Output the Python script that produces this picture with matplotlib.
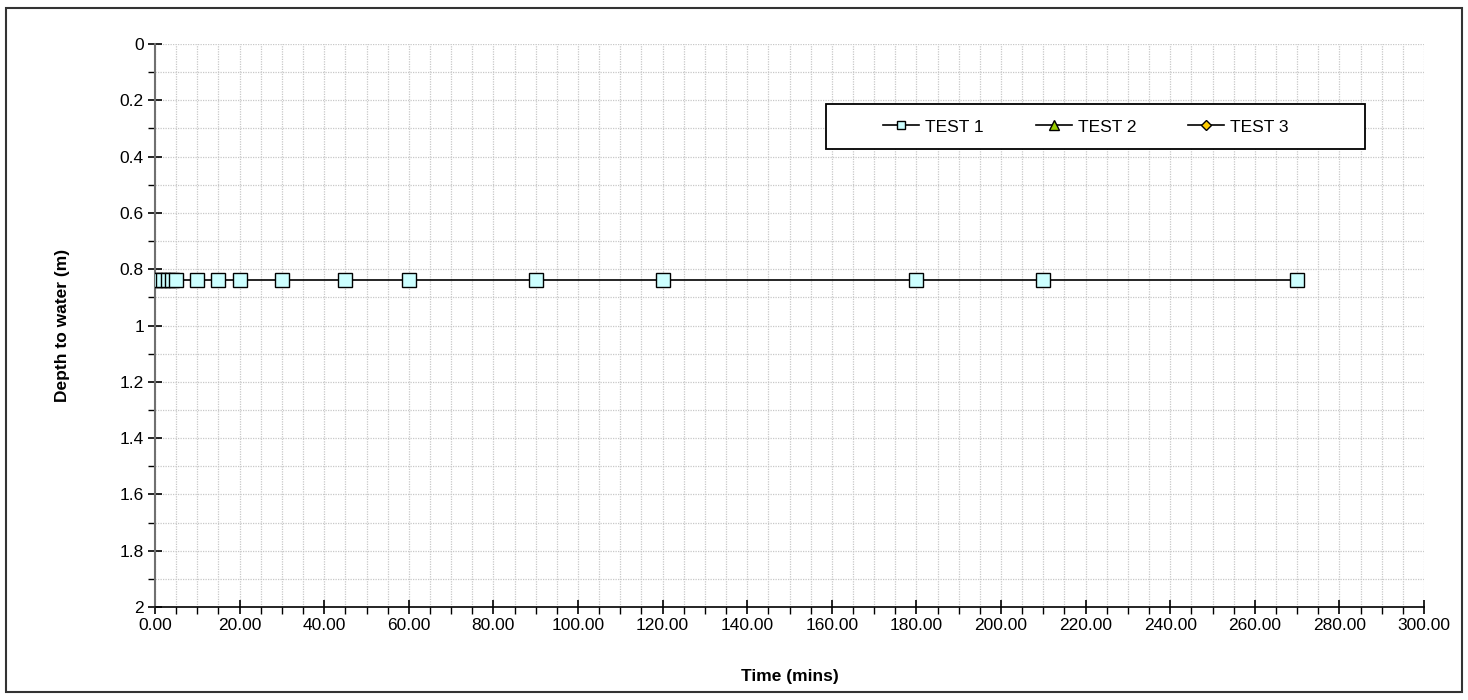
import matplotlib
matplotlib.use("Agg")
import matplotlib.pyplot as plt
from matplotlib.ticker import MultipleLocator, FormatStrFormatter, FuncFormatter
from matplotlib.lines import Line2D
from matplotlib.patches import Rectangle

plt.rcParams['font.family'] = ['Liberation Sans', 'DejaVu Sans']

# Data
test1_time = [0, 1, 2, 3, 4, 5, 10, 15, 20, 30, 45, 60, 90, 120, 180, 210, 270]
test1_depth = [0.84] * len(test1_time)
test2_time = []
test2_depth = []
test3_time = []
test3_depth = []
series_names = ["TEST 1", "TEST 2", "TEST 3"]

W, H = 1468, 700
FS = 12.5
fig = plt.figure(figsize=(W / 100, H / 100), dpi=100)
ax = fig.add_axes([155 / W, 1 - 607 / H, (1424 - 155) / W, (607 - 44) / H])

# outer border
fig.patches.append(Rectangle((6 / W, 1 - 692 / H), (1462 - 6) / W, (692 - 8) / H,
                             transform=fig.transFigure, fill=False,
                             edgecolor='#333333', linewidth=1.5))

ax.plot(test1_time, test1_depth, color='black', linewidth=1.2, marker='s',
        markersize=9.5, markerfacecolor='#CCFFFF', markeredgecolor='black',
        markeredgewidth=1.0, zorder=3)
ax.plot(test2_time, test2_depth, color='black', marker='^',
        markerfacecolor='#99CC00', markeredgecolor='black')
ax.plot(test3_time, test3_depth, color='black', marker='D',
        markerfacecolor='#FFCC00', markeredgecolor='black')

ax.set_xlim(0, 300)
ax.set_ylim(2, 0)
ax.xaxis.set_major_locator(MultipleLocator(20))
ax.xaxis.set_minor_locator(MultipleLocator(5))
ax.yaxis.set_major_locator(MultipleLocator(0.2))
ax.yaxis.set_minor_locator(MultipleLocator(0.1))
ax.xaxis.set_major_formatter(FormatStrFormatter('%.2f'))
ax.yaxis.set_major_formatter(FuncFormatter(lambda v, p: ('%g' % round(v, 2))))

ax.grid(True, which='both', color='#c8c8c8', linestyle=(0, (1, 1)), linewidth=0.9)
ax.set_axisbelow(True)

for s in ['top', 'right']:
    ax.spines[s].set_visible(False)
ax.spines['left'].set_color('#707070')
ax.spines['left'].set_linewidth(1.5)
ax.spines['bottom'].set_color('black')
ax.spines['bottom'].set_linewidth(1.2)

ax.tick_params(axis='both', which='major', direction='inout', length=10, width=1.2,
               labelsize=FS, colors='black', pad=3)
ax.tick_params(axis='x', which='minor', direction='out', length=5, width=1)
ax.tick_params(axis='y', which='minor', direction='out', length=5, width=1)

ax.set_xlabel('Time (mins)', fontsize=FS, fontweight='bold', labelpad=26)
ax.set_ylabel('Depth to water (m)', fontsize=FS, fontweight='bold', labelpad=36)

# legend box (drawn separately, Excel style)
def ax_x(px):
    return (px - 155) / (1424 - 155)

def ax_y(py):
    return 1 - (py - 44) / (607 - 44)

box = Rectangle((ax_x(826), ax_y(149)), ax_x(1365) - ax_x(826), ax_y(104) - ax_y(149),
                transform=ax.transAxes, facecolor='white', edgecolor='black',
                linewidth=1.3, zorder=4)
ax.add_patch(box)

handles = [
    Line2D([], [], color='black', lw=1.2, marker='s', markersize=6,
           markerfacecolor='#CCFFFF', markeredgecolor='black'),
    Line2D([], [], color='black', lw=1.2, marker='^', markersize=6.5,
           markerfacecolor='#99CC00', markeredgecolor='black'),
    Line2D([], [], color='black', lw=1.2, marker='D', markersize=5,
           markerfacecolor='#FFCC00', markeredgecolor='black'),
]
leg = ax.legend(handles, series_names, loc='center left',
                bbox_to_anchor=(ax_x(883), ax_y(127)),
                ncol=3, frameon=False, fontsize=FS,
                handlelength=2.07, columnspacing=3.0, borderpad=0,
                handletextpad=0.35, borderaxespad=0)
leg.set_zorder(5)

fig.savefig('out.png', dpi=100)
